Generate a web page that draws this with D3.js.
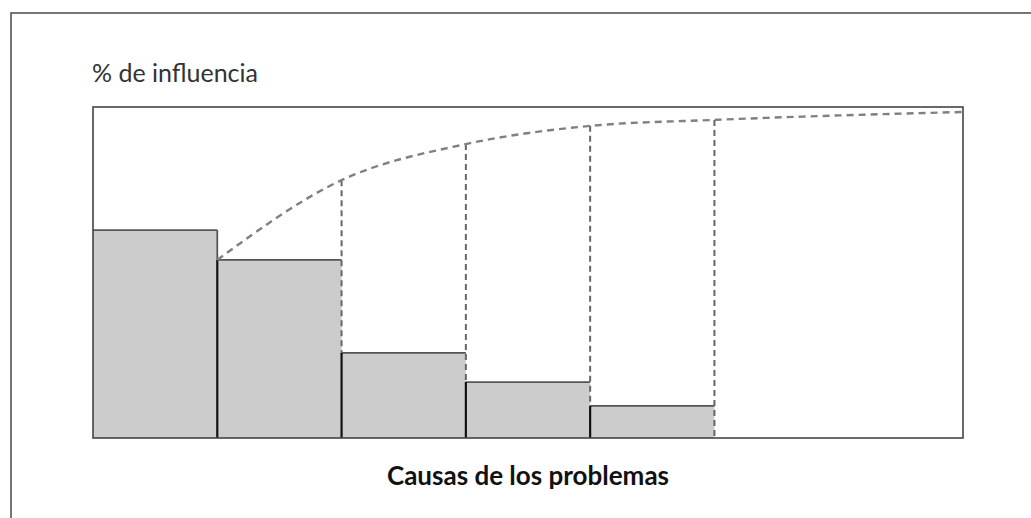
<!DOCTYPE html>
<html>
<head>
<meta charset="utf-8">
<script src="https://cdn.jsdelivr.net/npm/d3@7/dist/d3.min.js"></script>
<style>
body { margin: 0; background: #fff; }
svg { display: block; }
</style>
</head>
<body>
<svg id="chart" width="1031" height="518"></svg>
<script>
// bar heights, % of influence
var barValues = [62.8, 53.8, 25.7, 16.9, 9.7]
// cumulative curve: slot boundary index -> %
var curveIdx = [1, 2, 3, 4, 5, 7]
var curveVals = [53.8, 77.9, 88.8, 94.3, 96.1, 98.5]
var nSlots = 7
var yLabel = "% de influencia"
var xLabel = "Causas de los problemas"

var svg = d3.select("#chart")
var plotLeft = 93, plotRight = 963, plotTop = 107, plotBottom = 438

var x = d3.scaleLinear().domain([0, nSlots]).range([plotLeft, plotRight])
var y = d3.scaleLinear().domain([0, 100]).range([plotBottom, plotTop])

// outer frame
svg.append("rect")
    .attr("x", 11).attr("y", 13)
    .attr("width", 1100).attr("height", 600)
    .attr("fill", "none")
    .attr("stroke", "#555")
    .attr("stroke-width", 1.6)

// bars: filled rect, then edges drawn as lines
var bars = svg.append("g").attr("id", "bars")
bars.selectAll("rect")
    .data(barValues)
    .enter()
    .append("rect")
    .attr("x", function(d, i) { return x(i); })
    .attr("y", function(d) { return y(d); })
    .attr("width", function() { return x(1) - x(0); })
    .attr("height", function(d) { return plotBottom - y(d); })
    .attr("fill", "#cccccc")

// top edges
bars.selectAll("line.top")
    .data(barValues)
    .enter()
    .append("line")
    .attr("class", "top")
    .attr("x1", function(d, i) { return x(i); })
    .attr("x2", function(d, i) { return x(i + 1); })
    .attr("y1", function(d) { return y(d); })
    .attr("y2", function(d) { return y(d); })
    .attr("stroke", "#555")
    .attr("stroke-width", 1.8)

// left edges (solid, dark) for bars after the first
bars.selectAll("line.left")
    .data(barValues.slice(1))
    .enter()
    .append("line")
    .attr("class", "left")
    .attr("x1", function(d, i) { return x(i + 1); })
    .attr("x2", function(d, i) { return x(i + 1); })
    .attr("y1", function(d) { return y(d); })
    .attr("y2", plotBottom)
    .attr("stroke", "#111")
    .attr("stroke-width", 2.2)

// first bar right edge above the second bar
bars.append("line")
    .attr("x1", x(1)).attr("x2", x(1))
    .attr("y1", y(barValues[0])).attr("y2", y(barValues[1]))
    .attr("stroke", "#555")
    .attr("stroke-width", 1.8)

// dashed verticals from curve down to the next bar (or baseline)
var dashIdx = curveIdx.slice(1, 5)
svg.append("g").selectAll("line")
    .data(dashIdx)
    .enter()
    .append("line")
    .attr("x1", function(d) { return x(d); })
    .attr("x2", function(d) { return x(d); })
    .attr("y1", function(d) { return y(curveVals[curveIdx.indexOf(d)]); })
    .attr("y2", function(d) { return d < barValues.length ? y(barValues[d]) : plotBottom; })
    .attr("stroke", "#666")
    .attr("stroke-width", 2)
    .attr("stroke-dasharray", "6,4")

// cumulative dashed curve
var line = d3.line()
    .x(function(d) { return x(d[0]); })
    .y(function(d) { return y(d[1]); })
    .curve(d3.curveMonotoneX)

svg.append("path")
    .datum(d3.zip(curveIdx, curveVals))
    .attr("d", line)
    .attr("fill", "none")
    .attr("stroke", "#808080")
    .attr("stroke-width", 2.4)
    .attr("stroke-dasharray", "7,5")

// plot border
svg.append("rect")
    .attr("x", plotLeft).attr("y", plotTop)
    .attr("width", plotRight - plotLeft).attr("height", plotBottom - plotTop)
    .attr("fill", "none")
    .attr("stroke", "#444")
    .attr("stroke-width", 1.6)

svg.append("text")
    .attr("x", 92).attr("y", 82)
    .attr("font-family", "Lato, sans-serif")
    .attr("font-size", 25)
    .attr("fill", "#333")
    .text(yLabel)

svg.append("text")
    .attr("x", (plotLeft + plotRight) / 2).attr("y", 485)
    .attr("text-anchor", "middle")
    .attr("font-family", "Lato, sans-serif")
    .attr("font-weight", "bold")
    .attr("font-size", 26)
    .attr("fill", "#111")
    .text(xLabel)
</script>
</body>
</html>
